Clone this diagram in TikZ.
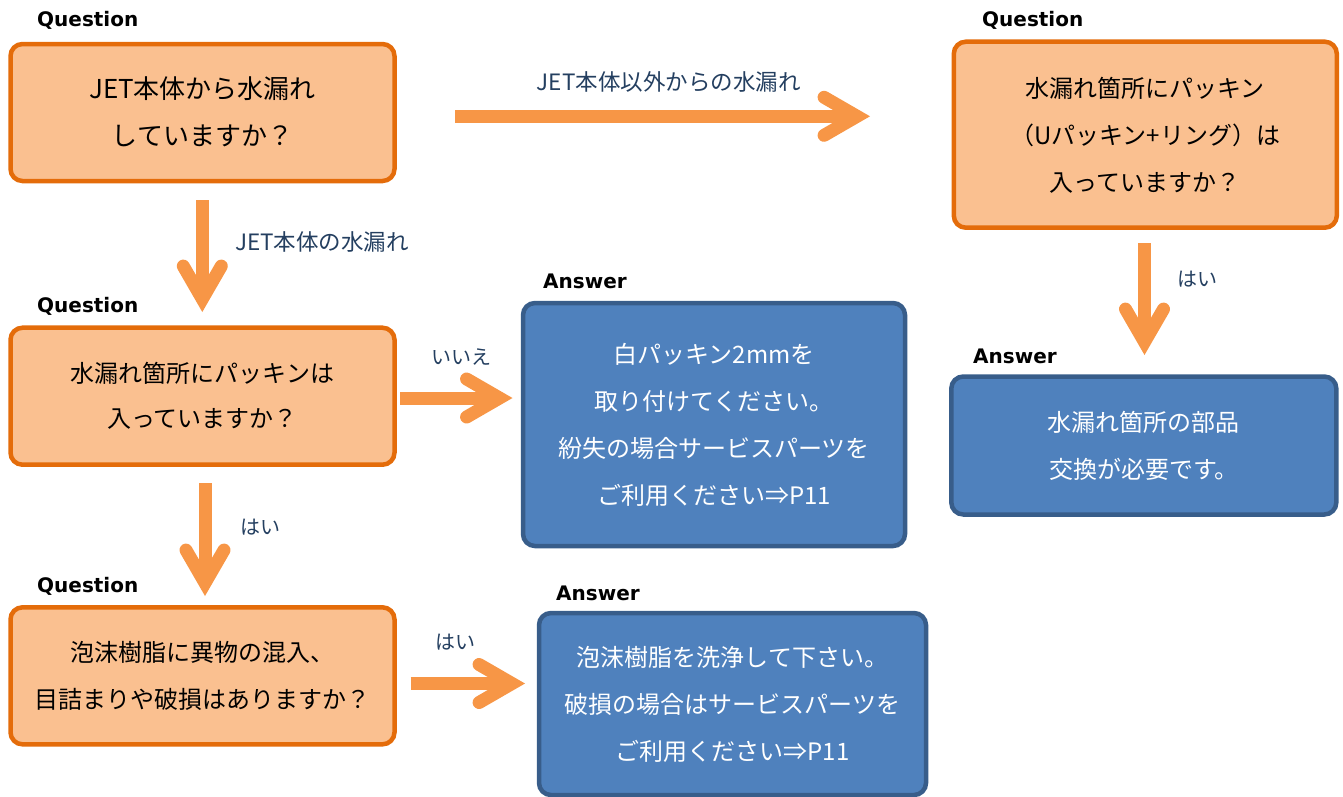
\documentclass[tikz,border=0pt]{standalone}
\usepackage{fontspec}
\newfontfamily\jp{Noto Sans CJK JP}
\newfontfamily\lbl{DejaVu Sans}
\usetikzlibrary{calc}
\definecolor{qfill}{HTML}{FAC090}
\definecolor{qborder}{HTML}{E46C0A}
\definecolor{afill}{HTML}{4F81BD}
\definecolor{aborder}{HTML}{385D8A}
\definecolor{arr}{HTML}{F79646}
\definecolor{etext}{HTML}{243F60}
% centred lines, pushed down by half of 7pt
\newcommand\boxlines[1]{\begin{tabular}{@{}c@{}}\rule{0pt}{\dimexpr0.7\baselineskip+7pt\relax}#1\end{tabular}}
\newcommand\farrow[2]{%
  \path ($(#2)!13pt!(#1)$) coordinate (#2v);
  \draw[shaft] (#1) -- (#2v);
  \draw[head] ($(#2v)!38pt!30:(#1)$) -- (#2v) -- ($(#2v)!38pt!-30:(#1)$);
}
\begin{document}
\begin{tikzpicture}[x=1pt,y=-1pt,
  boxbase/.style={line width=4.5pt, rounded corners=12pt,
    font=\jp\fontsize{24}{47}\selectfont, inner sep=0pt},
  qbox/.style={boxbase, draw=qborder, fill=qfill},
  abox/.style={boxbase, draw=aborder, fill=afill, text=white},
  tag/.style={font=\lbl\bfseries\fontsize{20}{24}\selectfont, anchor=west, inner sep=0pt},
  elabel/.style={font=\jp\fontsize{20}{24}\selectfont, text=etext, anchor=west, inner sep=0pt},
  elabelwide/.style={elabel, font=\jp\fontsize{22.5}{26}\selectfont},
  shaft/.style={draw=arr, line width=13pt},
  head/.style={draw=arr, line width=13pt, line cap=round, line join=miter},
]
\useasboundingbox (0,0) rectangle (1343,796);

% boxes
\node[qbox, minimum width=384pt, minimum height=137pt,
  font=\jp\fontsize{26}{47}\selectfont] (q1) at (202.5,112.5)
  {\boxlines{JET本体から水漏れ\\していますか？}};
\node[qbox, minimum width=383pt, minimum height=186pt] (q2) at (1145.3,134.7)
  {\boxlines{水漏れ箇所にパッキン\\（Uパッキン+リング）は\\入っていますか？}};
\node[qbox, minimum width=384pt, minimum height=137pt,
  font=\jp\fontsize{24}{45}\selectfont] (q3) at (202.5,396.2)
  {\boxlines{水漏れ箇所にパッキンは\\入っていますか？}};
\node[qbox, minimum width=384pt, minimum height=137pt] (q4) at (202.5,675.8)
  {\boxlines{泡沫樹脂に異物の混入、\\目詰まりや破損はありますか？}};
\node[abox, minimum width=382pt, minimum height=243pt] (a1) at (714,424.5)
  {\boxlines{白パッキン2mmを\\取り付けてください。\\紛失の場合サービスパーツを\\ご利用ください⇒P11}};
\node[abox, minimum width=385pt, minimum height=138pt] (a2) at (1143.8,445.5)
  {\boxlines{水漏れ箇所の部品\\交換が必要です。}};
\node[abox, minimum width=387pt, minimum height=182pt] (a3) at (732.5,704)
  {\boxlines{泡沫樹脂を洗浄して下さい。\\破損の場合はサービスパーツを\\ご利用ください⇒P11}};

% tags
\node[tag] (t1) at (37,20.5) {Question};
\node[tag] (t2) at (982,20.5) {Question};
\node[tag] (t3) at (37,306) {Question};
\node[tag] (t4) at (37,586) {Question};
\node[tag] (t5) at (543,281.5) {Answer};
\node[tag] (t6) at (973,356) {Answer};
\node[tag] (t7) at (556,593) {Answer};

% arrows
\coordinate (s1) at (455,116.3);   \coordinate (e1) at (870,116.3);
\coordinate (s2) at (202.3,200);   \coordinate (e2) at (202.3,312);
\coordinate (s3) at (400,398);     \coordinate (e3) at (512.5,398);
\coordinate (s4) at (205,483);     \coordinate (e4) at (205,596);
\coordinate (s5) at (410.7,683.5); \coordinate (e5) at (525,683.5);
\coordinate (s6) at (1144.5,243);  \coordinate (e6) at (1144.5,355);
\farrow{s1}{e1}
\farrow{s2}{e2}
\farrow{s3}{e3}
\farrow{s4}{e4}
\farrow{s5}{e5}
\farrow{s6}{e6}

% edge labels
\node[elabelwide] (l1) at (536.7,81.7) {JET本体以外からの水漏れ};
\node[elabelwide] (l2) at (235,241.7) {JET本体の水漏れ};
\node[elabel] (l3) at (431.7,356.7) {いいえ};
\node[elabel] (l4) at (240,526.7) {はい};
\node[elabel] (l5) at (435,641.7) {はい};
\node[elabel] (l6) at (1177.3,279.3) {はい};
\end{tikzpicture}
\end{document}
